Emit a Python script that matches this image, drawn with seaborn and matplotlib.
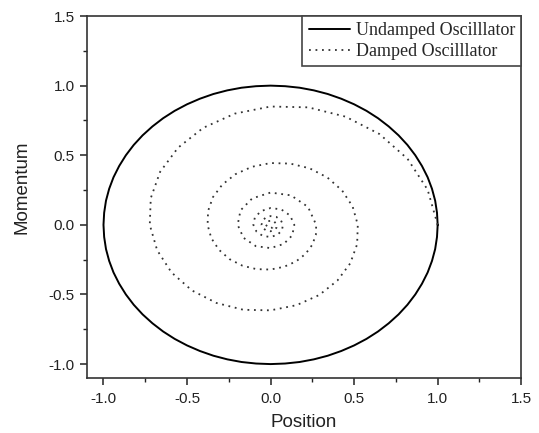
import numpy as np
import pandas as pd
import matplotlib
matplotlib.use("Agg")
import matplotlib.pyplot as plt
from matplotlib.ticker import MultipleLocator
import seaborn as sns

# Undamped oscillator: closed orbit in phase space (position, momentum)
undamped_x = [1.0, 0.996, 0.985, 0.966, 0.940, 0.906, 0.866, 0.819, 0.766, 0.707, 0.643, 0.574,
              0.5, 0.423, 0.342, 0.259, 0.174, 0.087, 0.0, -0.087, -0.174, -0.259, -0.342, -0.423,
              -0.5, -0.574, -0.643, -0.707, -0.766, -0.819, -0.866, -0.906, -0.940, -0.966, -0.985, -0.996,
              -1.0, -0.996, -0.985, -0.966, -0.940, -0.906, -0.866, -0.819, -0.766, -0.707, -0.643, -0.574,
              -0.5, -0.423, -0.342, -0.259, -0.174, -0.087, 0.0, 0.087, 0.174, 0.259, 0.342, 0.423,
              0.5, 0.574, 0.643, 0.707, 0.766, 0.819, 0.866, 0.906, 0.940, 0.966, 0.985, 0.996, 1.0]
undamped_p = [0.0, 0.087, 0.174, 0.259, 0.342, 0.423, 0.5, 0.574, 0.643, 0.707, 0.766, 0.819,
              0.866, 0.906, 0.940, 0.966, 0.985, 0.996, 1.0, 0.996, 0.985, 0.966, 0.940, 0.906,
              0.866, 0.819, 0.766, 0.707, 0.643, 0.574, 0.5, 0.423, 0.342, 0.259, 0.174, 0.087,
              0.0, -0.087, -0.174, -0.259, -0.342, -0.423, -0.5, -0.574, -0.643, -0.707, -0.766, -0.819,
              -0.866, -0.906, -0.940, -0.966, -0.985, -0.996, -1.0, -0.996, -0.985, -0.966, -0.940, -0.906,
              -0.866, -0.819, -0.766, -0.707, -0.643, -0.574, -0.5, -0.423, -0.342, -0.259, -0.174, -0.087, 0.0]

# Damped oscillator: spiral
damped_x = [1.000, 0.940, 0.820, 0.652, 0.449, 0.226, 0.000, -0.214, -0.403, -0.554,
            -0.661, -0.717, -0.723, -0.679, -0.593, -0.471, -0.324, -0.163, 0.000,
            0.155, 0.291, 0.400, 0.477, 0.518, 0.522,
            0.491, 0.428, 0.340, 0.234, 0.118, 0.000, -0.112, -0.210, -0.289,
            -0.345, -0.374, -0.377, -0.355, -0.309, -0.246, -0.169, -0.085, 0.000,
            0.081, 0.152, 0.209, 0.249, 0.271, 0.273,
            0.224, 0.122, 0.000, -0.110, -0.180, -0.197, -0.162, -0.088, 0.000,
            0.079, 0.130, 0.142,
            0.117, 0.064, 0.000, -0.057, -0.094, -0.103, -0.084, -0.046, 0.000,
            0.041, 0.068, 0.074,
            0.061, 0.033, 0.000, -0.030, -0.049, -0.054, -0.044, -0.024, 0.000,
            0.022, 0.035, 0.039,
            0.017, -0.016, -0.028, -0.013, 0.011, 0.020]
damped_p = [0.000, 0.252, 0.474, 0.652, 0.777, 0.844, 0.850, 0.799, 0.697, 0.554,
            0.381, 0.192, 0.000, -0.182, -0.342, -0.471, -0.561, -0.610, -0.614,
            -0.577, -0.504, -0.400, -0.276, -0.139, 0.000,
            0.132, 0.247, 0.340, 0.406, 0.440, 0.444, 0.417, 0.364, 0.289,
            0.199, 0.100, 0.000, -0.095, -0.179, -0.246, -0.293, -0.318, -0.321,
            -0.301, -0.263, -0.209, -0.144, -0.073, 0.000,
            0.129, 0.212, 0.232, 0.190, 0.104, 0.000, -0.093, -0.153, -0.167,
            -0.137, -0.075, 0.000,
            0.067, 0.111, 0.121, 0.099, 0.054, 0.000, -0.049, -0.080, -0.087,
            -0.072, -0.039, 0.000,
            0.035, 0.058, 0.063, 0.052, 0.028, 0.000, -0.025, -0.042, -0.046,
            -0.037, -0.021, 0.000,
            0.030, 0.027, 0.000, -0.022, -0.020, 0.000]

x_ticks = [-1.0, -0.5, 0.0, 0.5, 1.0, 1.5]
y_ticks = [-1.0, -0.5, 0.0, 0.5, 1.0, 1.5]

sns.set_style("ticks")
plt.rcParams['font.family'] = ['Liberation Sans', 'DejaVu Sans']
plt.rcParams['axes.unicode_minus'] = False

fig, ax = plt.subplots(figsize=(5.39, 4.33), dpi=100)
fig.subplots_adjust(left=0.161, right=0.967, top=0.963, bottom=0.127)

undamped_df = pd.DataFrame({"Position": undamped_x, "Momentum": undamped_p})
damped_df = pd.DataFrame({"Position": damped_x, "Momentum": damped_p})

sns.lineplot(data=undamped_df, x="Position", y="Momentum", sort=False, estimator=None,
             color="black", linewidth=1.4, ax=ax, label="Undamped Oscilllator")
sns.lineplot(data=damped_df, x="Position", y="Momentum", sort=False, estimator=None,
             color="#333333", linewidth=1.3, linestyle=(0, (1, 2.6)), ax=ax,
             label="Damped Oscilllator")

ax.set_xlim(-1.1, 1.5)
ax.set_ylim(-1.1, 1.5)
ax.set_xticks(x_ticks)
ax.set_yticks(y_ticks)
ax.xaxis.set_minor_locator(MultipleLocator(0.25))
ax.yaxis.set_minor_locator(MultipleLocator(0.25))
ax.tick_params(which="major", direction="out", length=5, width=1.1, labelsize=11,
               colors="#222222")
ax.tick_params(axis="x", which="major", pad=5)
ax.tick_params(which="minor", direction="out", length=3, width=1.0, colors="#222222")
ax.set_xlabel("Position", fontsize=13.5, color="#222222", labelpad=6)
ax.set_ylabel("Momentum", fontsize=13.5, color="#222222", labelpad=13)
ax.yaxis.label.set_y(0.528)
for side in ["top", "right", "left", "bottom"]:
    ax.spines[side].set_visible(True)
    ax.spines[side].set_linewidth(1.2)
    ax.spines[side].set_color("#333333")

leg = ax.legend(loc="upper right", borderaxespad=0.0, fancybox=False, framealpha=1,
                edgecolor="#444444", handlelength=2.3, handletextpad=0.3,
                borderpad=0.35, labelspacing=0.2,
                prop={"family": "Liberation Serif", "size": 13})
leg.get_frame().set_linewidth(1.2)

plt.savefig("out.png", dpi=100)
